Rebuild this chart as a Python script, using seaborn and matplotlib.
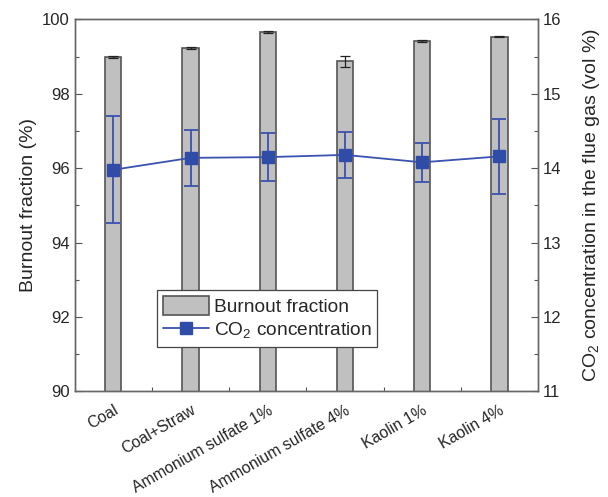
import matplotlib
matplotlib.use("Agg")
import matplotlib.pyplot as plt
from matplotlib.patches import Patch
from matplotlib.lines import Line2D
from matplotlib.ticker import MultipleLocator, FixedLocator
import matplotlib.transforms as mtransforms
import seaborn as sns
import pandas as pd
import numpy as np

categories = ["Coal", "Coal+Straw", "Ammonium sulfate 1%", "Ammonium sulfate 4%", "Kaolin 1%", "Kaolin 4%"]
burnout = [98.99, 99.23, 99.66, 98.88, 99.42, 99.54]
burnout_err = [0.03, 0.03, 0.03, 0.15, 0.02, 0.02]
co2 = [13.98, 14.14, 14.15, 14.18, 14.08, 14.16]
co2_err = [0.72, 0.38, 0.32, 0.31, 0.26, 0.50]

sns.set_theme(style="ticks")
plt.rcParams['font.family'] = ['Liberation Sans', 'DejaVu Sans']
plt.rcParams['mathtext.fontset'] = 'custom'
plt.rcParams['mathtext.rm'] = 'Liberation Sans'

df = pd.DataFrame({"cat": categories, "burnout": burnout})

fig = plt.figure(figsize=(6.08, 4.97), dpi=100)
ax = fig.add_axes([0.1229, 0.2123, 0.885 - 0.1229, 0.9608 - 0.2123])

sns.barplot(data=df, x="cat", y="burnout", ax=ax, color="#c0c0c0", width=0.21,
            edgecolor="#555555", linewidth=1.2, saturation=1, errorbar=None)
x = np.arange(len(categories))
ax.errorbar(x, burnout, yerr=burnout_err, fmt="none", ecolor="#222222",
            elinewidth=0.9, capsize=3.5, capthick=0.9, zorder=3)

ax.set_ylim(90, 100)
ax.set_xlim(-0.5, 5.5)
ax.yaxis.set_major_locator(MultipleLocator(2))
ax.yaxis.set_minor_locator(MultipleLocator(1))
ax.xaxis.set_minor_locator(FixedLocator(np.arange(0.5, 5.0, 1.0)))
ax.set_ylabel("Burnout fraction (%)", fontsize=14, labelpad=4)
ax.set_xlabel("")
ax.set_xticks(x)
ax.set_xticklabels(categories, rotation=30, ha="right", rotation_mode="anchor", fontsize=11.4)
offset = mtransforms.ScaledTranslation(5 / 100, 0, fig.dpi_scale_trans)
for lbl in ax.get_xticklabels():
    lbl.set_transform(lbl.get_transform() + offset)
ax.tick_params(axis="x", which="major", length=0, pad=8)
ax.tick_params(axis="x", which="minor", direction="in", length=3, width=0.8, color="#555555")
ax.tick_params(axis="y", which="major", direction="in", length=5, width=0.8, color="#555555", labelsize=12)
ax.tick_params(axis="y", which="minor", direction="in", length=3, width=0.8, color="#555555")
for s in ax.spines.values():
    s.set_color("#666666")
    s.set_linewidth(1.0)

ax2 = ax.twinx()
ax2.errorbar(x, co2, yerr=co2_err, color="#3a52b0", marker="s", markersize=8,
             markerfacecolor="#2f4da8", markeredgecolor="#2f4da8", linewidth=1.3,
             elinewidth=1.3, capsize=5, capthick=1.3, zorder=4)
ax2.set_ylim(11, 16)
ax2.yaxis.set_major_locator(MultipleLocator(1))
ax2.yaxis.set_minor_locator(MultipleLocator(0.5))
ax2.tick_params(axis="y", which="major", direction="in", length=5, width=0.8, color="#555555", labelsize=12)
ax2.tick_params(axis="y", which="minor", direction="in", length=3, width=0.8, color="#555555")
ax2.set_ylabel("CO$_2$ concentration in the flue gas (vol %)", fontsize=14, labelpad=14)
for s in ax2.spines.values():
    s.set_color("#666666")
    s.set_linewidth(1.0)

handles = [Patch(facecolor="#c0c0c0", edgecolor="#555555", linewidth=1.2),
           Line2D([0], [0], color="#3a52b0", marker="s", markersize=8,
                  markerfacecolor="#2f4da8", markeredgecolor="#2f4da8", linewidth=1.3)]
leg = ax2.legend(handles, ["Burnout fraction", "CO$_2$ concentration"],
                 loc="upper left", bbox_to_anchor=(0.1776, 0.2728),
                 fontsize=13.8, frameon=True, fancybox=False,
                 edgecolor="#444444", framealpha=1, handlelength=2.4, handleheight=1.2,
                 handletextpad=0.25, borderpad=0.3, labelspacing=0.2, borderaxespad=0)
leg.get_frame().set_linewidth(0.9)

fig.savefig("out.png", dpi=100)
